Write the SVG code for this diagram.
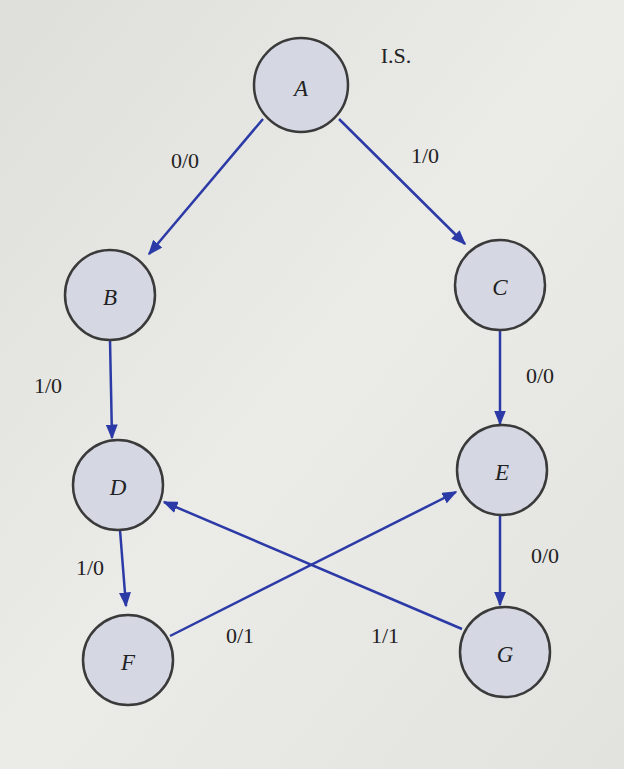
<svg xmlns="http://www.w3.org/2000/svg" width="624" height="769" viewBox="0 0 624 769">
<defs>
<marker id="ah" viewBox="0 0 10 10" refX="9" refY="5" markerWidth="15" markerHeight="12" orient="auto-start-reverse" markerUnits="userSpaceOnUse" preserveAspectRatio="none">
<path d="M0,0 L10,5 L0,10 z" fill="#2b3aa6"/>
</marker>
<linearGradient id="bg" x1="0" y1="0" x2="1" y2="1">
<stop offset="0" stop-color="#dedfdb"/><stop offset="0.5" stop-color="#ebebe8"/><stop offset="1" stop-color="#e2e2de"/>
</linearGradient>
</defs>
<style>
.n{fill:#d5d7e3;stroke:#3a3a3a;stroke-width:2.5}
.nt{font-family:"Liberation Serif",serif;font-size:23px;font-style:italic;fill:#222;text-anchor:middle;dominant-baseline:central}
.l{font-family:"Liberation Serif",serif;font-size:22px;fill:#222;text-anchor:middle;dominant-baseline:central}
.e{stroke:#2b3aa6;stroke-width:2.5;fill:none;marker-end:url(#ah)}
</style>
<rect width="624" height="769" fill="url(#bg)"/>
<g id="connectors">
<line class="e" x1="263" y1="119" x2="149" y2="254"/>
<line class="e" x1="339" y1="119" x2="465" y2="244"/>
<line class="e" x1="110" y1="340" x2="112" y2="438"/>
<line class="e" x1="500" y1="330" x2="500" y2="424"/>
<line class="e" x1="120" y1="530" x2="126" y2="606"/>
<line class="e" x1="500" y1="515" x2="500" y2="605"/>
<line class="e" x1="170" y1="636" x2="456" y2="492"/>
<line class="e" x1="462" y1="629" x2="164" y2="502"/>
</g>
<g id="A"><circle class="n" cx="301" cy="85" r="47"/><text class="nt" x="301" y="88">A</text></g>
<g id="B"><circle class="n" cx="110" cy="295" r="45"/><text class="nt" x="110" y="297">B</text></g>
<g id="C"><circle class="n" cx="500" cy="285" r="45"/><text class="nt" x="500" y="287">C</text></g>
<g id="D"><circle class="n" cx="118" cy="485" r="45"/><text class="nt" x="118" y="487">D</text></g>
<g id="E"><circle class="n" cx="502" cy="470" r="45"/><text class="nt" x="502" y="472">E</text></g>
<g id="F"><circle class="n" cx="128" cy="660" r="45"/><text class="nt" x="128" y="662">F</text></g>
<g id="G"><circle class="n" cx="505" cy="652" r="45"/><text class="nt" x="505" y="654">G</text></g>
<g id="labels">
<text class="l" x="396" y="55">I.S.</text>
<text class="l" x="185" y="160">0/0</text>
<text class="l" x="425" y="155">1/0</text>
<text class="l" x="48" y="385">1/0</text>
<text class="l" x="540" y="375">0/0</text>
<text class="l" x="90" y="567">1/0</text>
<text class="l" x="545" y="555">0/0</text>
<text class="l" x="240" y="635">0/1</text>
<text class="l" x="385" y="635">1/1</text>
</g>
</svg>
